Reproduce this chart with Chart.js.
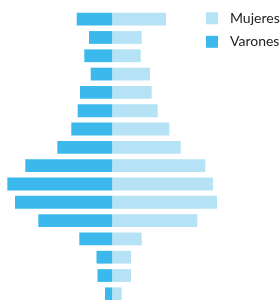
<!DOCTYPE html>
<html>
<head>
<meta charset="utf-8">
<script src="https://cdn.jsdelivr.net/npm/chart.js@4.4.1/dist/chart.umd.min.js"></script>
<style>
html,body{margin:0;padding:0;background:#fff;overflow:hidden;}
#wrap{position:relative;width:280px;height:304px;}
</style>
</head>
<body>
<div id="wrap"><canvas id="c"></canvas></div>
<script>
const categories = ["0-4","5-9","10-14","15-19","20-24","25-29","30-34","35-39","40-44","45-49","50-54","55-59","60-64","65-69","70-74","75+"];
const mujeres = [5.35, 2.92, 2.82, 3.75, 3.92, 4.52, 5.68, 6.82, 9.28, 10.05, 10.45, 8.48, 2.92, 1.85, 1.85, 0.92];
const varones = [3.58, 2.35, 2.82, 2.18, 3.25, 3.48, 4.12, 5.52, 8.72, 10.52, 9.75, 7.42, 3.32, 1.60, 1.50, 0.75];
const seriesNames = ["Mujeres", "Varones"];
const seriesColors = ["#b5e3f5", "#3cb9ec"];

const legendPlugin = {
  id: 'sideLegend',
  afterDraw(chart) {
    const ctx = chart.ctx;
    ctx.save();
    chart.data.datasets.forEach((ds, i) => {
      const y = 12.3 + i * 23.5;
      ctx.fillStyle = ds.backgroundColor;
      ctx.fillRect(206, y, 12, 12);
      ctx.fillStyle = '#222222';
      ctx.font = '14px Lato, "Open Sans", sans-serif';
      ctx.textBaseline = 'middle';
      ctx.textAlign = 'left';
      ctx.fillText(ds.label, 230, y + 6);
    });
    ctx.restore();
  }
};

new Chart(document.getElementById('c'), {
  type: 'bar',
  data: {
    labels: categories,
    datasets: [
      { label: seriesNames[0], data: mujeres, backgroundColor: seriesColors[0], borderWidth: 0, categoryPercentage: 1, barPercentage: 0.7 },
      { label: seriesNames[1], data: varones.map(v => -v), backgroundColor: seriesColors[1], borderWidth: 0, categoryPercentage: 1, barPercentage: 0.7 }
    ]
  },
  options: {
    indexAxis: 'y',
    responsive: true,
    maintainAspectRatio: false,
    animation: false,
    layout: { padding: { top: 10, bottom: 1, left: 0, right: 0 } },
    plugins: { legend: { display: false }, tooltip: { enabled: false } },
    scales: {
      x: { type: 'linear', stacked: true, min: -11.25, max: 16.75, display: false },
      y: { stacked: true, display: false }
    }
  },
  plugins: [legendPlugin]
});
</script>
</body>
</html>
